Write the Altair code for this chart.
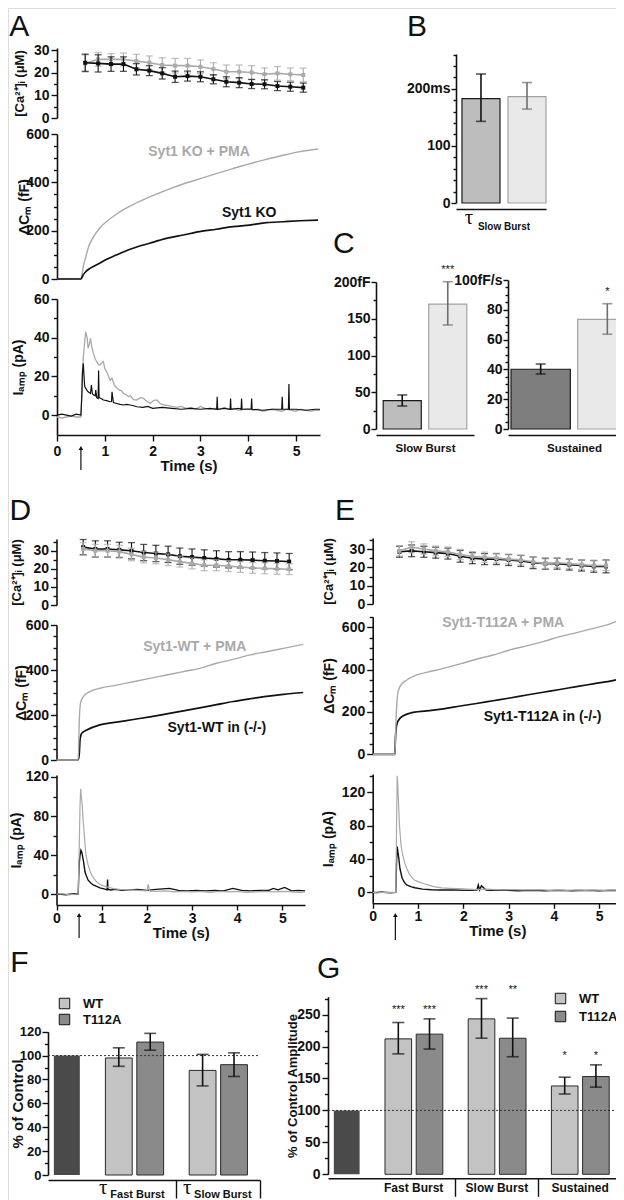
import altair as alt
import pandas as pd

FONT = "Liberation Sans"
INK = "#111111"
GREY = "#a9a9a9"
W, H = 608, 1192
M = 8  # page margin of the html page

# ======================= values =======================
# [Ca2+]i sampling times (s) shared by panels A, D, E
ca_t = [0.59, 0.86, 1.13, 1.39, 1.66, 1.93, 2.20, 2.47, 2.73, 3.00,
        3.27, 3.54, 3.81, 4.07, 4.34, 4.61, 4.88, 5.15]

# ---- Panel A : Syt1 KO (black) / Syt1 KO + PMA (grey)
a_ca_ko = [24.4, 24.1, 23.8, 23.8, 21.5, 20.9, 19.7, 18.2, 18.5, 18.2, 17.1, 16.0, 15.6, 15.0, 14.9, 14.1, 13.8, 13.4]
a_ca_ko_sem = [3.8, 3.8, 3.2, 3.2, 2.5, 2.2, 2.5, 2.5, 2.2, 2.2, 2.0, 2.2, 2.2, 2.0, 2.0, 2.0, 2.0, 2.0]
a_ca_pma = [24.1, 25.9, 25.9, 25.9, 25.1, 24.4, 23.4, 23.1, 23.1, 22.6, 21.6, 20.4, 20.4, 20.1, 19.3, 19.7, 19.3, 19.0]
a_ca_pma_sem = [3.8, 3.0, 2.5, 2.8, 3.0, 3.0, 3.2, 3.2, 3.2, 3.0, 2.8, 3.0, 3.0, 3.0, 2.8, 3.0, 2.8, 3.0]

a_cm_pma = [(0, 0), (0.25, 1), (0.5, 0), (0.52, 15), (0.55, 51), (0.6, 90), (0.65, 127), (0.75, 170),
            (0.89, 210), (1.05, 240), (1.24, 268), (1.4, 288), (1.59, 308), (1.8, 327), (1.94, 340),
            (2.29, 368), (2.64, 393), (2.98, 414), (3.33, 436), (3.68, 457), (4.03, 477), (4.38, 495),
            (4.73, 512), (5.08, 527), (5.46, 538)]
a_cm_ko = [(0, 0), (0.25, 0), (0.5, 0), (0.55, 18), (0.6, 30), (0.7, 45), (0.89, 65), (1.05, 83),
           (1.24, 99), (1.4, 113), (1.59, 127), (1.94, 148), (2.29, 168), (2.64, 182), (2.98, 196),
           (3.33, 206), (3.68, 217), (4.03, 223), (4.38, 233), (4.73, 237), (5.08, 241), (5.46, 244)]

a_i_pma = [(0.0, -1), (0.1, -1.5), (0.2, -1), (0.3, -0.5), (0.4, -1), (0.5, -1), (0.52, 12), (0.55, 30),
           (0.58, 38), (0.6, 43), (0.63, 40), (0.65, 34.5), (0.68, 37), (0.7, 39.7), (0.73, 35), (0.76, 32),
           (0.8, 29), (0.83, 27.6), (0.87, 26), (0.9, 26), (0.94, 27), (0.97, 27.6), (1.0, 24), (1.04, 22.4),
           (1.08, 20), (1.11, 18), (1.15, 19), (1.2, 15.5), (1.25, 14), (1.3, 13), (1.35, 12.5), (1.39, 11.2),
           (1.45, 10.5), (1.5, 9.5), (1.53, 10), (1.6, 8), (1.67, 7.8), (1.74, 9), (1.81, 8.6), (1.88, 7),
           (1.95, 6), (2.02, 7.5), (2.09, 7.8), (2.16, 6), (2.23, 5.2), (2.3, 5), (2.4, 4.5), (2.5, 4),
           (2.6, 4.5), (2.7, 3.5), (2.8, 4), (2.9, 3), (3.0, 4.5), (3.1, 3.5), (3.2, 3), (3.3, 3.5),
           (3.4, 3), (3.5, 4), (3.6, 3), (3.7, 3.5), (3.8, 2.5), (3.9, 3), (4.0, 3.5), (4.1, 2.5),
           (4.2, 3), (4.3, 2), (4.4, 2.5), (4.5, 3), (4.6, 2.5), (4.7, 2), (4.8, 3), (4.9, 2.5),
           (5.0, 2), (5.1, 3), (5.2, 2.5), (5.3, 2), (5.4, 2.5), (5.5, 2.5)]
a_i_ko = [(0.0, 0), (0.1, 0.5), (0.2, 0), (0.3, -0.5), (0.4, 0.5), (0.5, 0), (0.52, 10), (0.53, 21.5),
          (0.55, 26.7), (0.57, 18), (0.58, 14.7), (0.62, 13), (0.65, 12), (0.7, 11.2), (0.72, 15.5),
          (0.74, 11), (0.76, 10.5), (0.8, 10), (0.81, 13), (0.83, 9), (0.86, 8.6), (0.87, 23), (0.88, 9),
          (0.92, 8.6), (0.97, 7.8), (1.04, 7.5), (1.11, 6.9), (1.14, 7), (1.15, 12), (1.18, 6.5),
          (1.25, 6), (1.32, 5.5), (1.39, 5.2), (1.46, 5.5), (1.53, 5.2), (1.6, 4.8), (1.67, 4.3),
          (1.8, 4), (1.9, 4.5), (2.0, 3.5), (2.2, 4), (2.4, 3.5), (2.6, 3), (2.8, 3.5), (3.0, 3),
          (3.2, 3.5), (3.34, 3), (3.35, 9.5), (3.36, 3), (3.5, 3.5), (3.62, 3), (3.63, 8.6), (3.64, 3),
          (3.8, 3.5), (3.85, 3), (3.86, 8.6), (3.87, 3), (4.06, 3), (4.07, 8.6), (4.08, 3), (4.3, 2.5),
          (4.5, 3), (4.7, 3), (4.71, 9.5), (4.72, 3), (4.84, 3), (4.85, 16), (4.86, 3), (5.0, 3),
          (5.2, 2.5), (5.4, 3), (5.5, 3)]

# ---- Panel B : tau slow burst (ms)
b_cond = ["Syt1 KO", "Syt1 KO + PMA"]
b_tau = [183, 186.5]
b_tau_lo = [143, 164.5]
b_tau_hi = [226, 211]

# ---- Panel C : slow burst (fF) and sustained rate (fF/s)
c_burst = [38.5, 170]
c_burst_lo = [31.3, 141.5]
c_burst_hi = [46.3, 200.4]
c_burst_sig = ["", "***"]
c_sust = [40.1, 73.6]
c_sust_lo = [36.9, 63.6]
c_sust_hi = [43.6, 84.1]
c_sust_sig = ["", "*"]

# ---- Panel D : Syt1-WT in (-/-) (black) / Syt1-WT + PMA (grey)
d_ca_wt = [32.0, 31.0, 31.0, 30.5, 30.0, 29.0, 28.5, 28.0, 27.0, 26.5, 26.0, 25.5, 25.0, 25.0, 24.8, 24.5, 24.3, 24.0]
d_ca_wt_sem = [4.2, 4.5, 4.5, 4.2, 4.5, 4.5, 4.5, 4.5, 4.5, 4.5, 4.5, 4.5, 4.5, 4.5, 4.5, 4.5, 4.5, 4.5]
d_ca_pma = [31.0, 30.0, 30.0, 29.5, 28.0, 26.5, 26.0, 25.0, 24.0, 23.0, 22.0, 22.0, 21.5, 21.0, 20.5, 20.3, 20.0, 19.8]
d_ca_pma_sem = [3.5, 3.5, 3.5, 3.5, 3.5, 3.2, 3.2, 3.2, 3.0, 3.0, 3.0, 3.0, 3.0, 3.0, 3.0, 3.0, 3.0, 3.0]

d_cm_pma = [(0, 0), (0.25, 0), (0.48, 0), (0.505, 178), (0.53, 252), (0.59, 281), (0.74, 304), (0.96, 319),
            (1.33, 333), (1.7, 348), (2.07, 363), (2.44, 378), (2.81, 393), (3.17, 407), (3.54, 430),
            (3.91, 447), (4.28, 467), (4.65, 481), (5.02, 496), (5.46, 514)]
d_cm_wt = [(0, 0), (0.25, 0), (0.48, 0), (0.505, 30), (0.52, 89), (0.56, 119), (0.67, 133), (0.96, 156),
           (1.33, 168), (1.7, 180), (2.07, 192), (2.44, 205), (2.81, 218), (3.17, 232), (3.54, 246),
           (3.91, 260), (4.28, 272), (4.65, 283), (5.02, 292), (5.46, 300)]

d_i_pma = [(0, 0), (0.1, 0.5), (0.2, 0), (0.3, -0.5), (0.4, 0), (0.48, 0), (0.5, 40), (0.52, 90),
           (0.535, 108), (0.55, 100), (0.57, 91), (0.59, 75), (0.61, 64), (0.63, 52), (0.645, 43),
           (0.67, 36), (0.7, 30), (0.74, 24), (0.78, 19.5), (0.83, 16), (0.89, 12.6), (0.95, 10.5),
           (1.04, 8.5), (1.15, 7), (1.26, 5.8), (1.4, 5), (1.6, 4.5), (1.8, 4), (2.0, 3.5), (2.03, 10),
           (2.06, 3.5), (2.2, 3), (2.4, 3.5), (2.6, 2.5), (2.8, 3), (3.0, 2.5), (3.2, 3), (3.4, 2),
           (3.6, 3), (3.8, 2.5), (4.0, 3), (4.2, 2), (4.4, 2.5), (4.6, 3), (4.8, 2.5), (5.0, 3),
           (5.2, 2.5), (5.4, 2), (5.5, 2.5)]
d_i_wt = [(0, 0), (0.1, 0), (0.2, -0.5), (0.3, 0), (0.4, 0.5), (0.48, 0), (0.5, 30), (0.52, 40),
          (0.54, 45), (0.56, 43), (0.58, 38), (0.6, 33), (0.63, 23), (0.66, 19), (0.7, 14.4), (0.76, 11.5),
          (0.82, 9.2), (0.89, 8), (0.96, 6.5), (1.05, 5.5), (1.12, 4.5), (1.13, 15), (1.14, 5), (1.2, 4.4),
          (1.3, 5), (1.45, 4), (1.6, 4.5), (1.8, 5), (2.0, 4), (2.2, 5), (2.5, 6), (2.7, 4), (2.9, 3.5),
          (3.1, 4), (3.3, 3.5), (3.5, 4), (3.7, 3.5), (3.9, 6), (4.1, 4), (4.3, 3.5), (4.5, 4), (4.7, 4),
          (4.8, 6), (4.9, 4.5), (5.05, 7), (5.2, 3.5), (5.35, 4), (5.5, 3.5)]

# ---- Panel E : Syt1-T112A in (-/-) (black) / Syt1-T112A + PMA (grey)
e_ca_pma = [29.0, 31.0, 30.0, 29.0, 28.5, 27.0, 26.0, 25.5, 25.0, 24.5, 24.0, 23.0, 22.0, 22.5, 22.0, 21.5, 21.0, 21.0]
e_ca_pma_sem = [2.8, 3.0, 2.8, 2.6, 2.6, 2.8, 2.6, 2.8, 2.6, 2.6, 2.6, 2.8, 2.6, 2.6, 2.6, 2.6, 2.8, 2.8]
e_ca_t112a = [28.5, 29.0, 28.5, 28.0, 27.5, 26.0, 25.0, 24.5, 24.5, 24.0, 23.5, 22.5, 22.0, 22.0, 21.5, 21.0, 20.5, 20.5]
e_ca_t112a_sem = [3.0, 3.2, 3.0, 3.0, 3.0, 3.2, 3.0, 3.0, 3.0, 3.0, 3.0, 3.2, 3.0, 3.0, 3.0, 3.0, 3.2, 3.5]

e_cm_pma = [(0, 0), (0.25, 0), (0.49, 0), (0.515, 162), (0.544, 272), (0.6, 320), (0.75, 351), (0.97, 375),
            (1.19, 387), (1.56, 406), (1.93, 427), (2.29, 449), (2.66, 469), (3.03, 493), (3.4, 512),
            (3.76, 532), (4.13, 556), (4.5, 575), (4.87, 595), (5.24, 616), (5.49, 638)]
e_cm_t112a = [(0, 0), (0.25, 0), (0.49, 0), (0.5, 68), (0.53, 139), (0.6, 170), (0.82, 194), (1.19, 205),
              (1.56, 215), (1.93, 228), (2.29, 240), (2.66, 253), (3.03, 266), (3.4, 280), (3.76, 293),
              (4.13, 306), (4.5, 320), (4.87, 333), (5.24, 346), (5.49, 357)]

e_i_pma = [(0, 0), (0.1, -0.5), (0.2, 0), (0.3, 0.5), (0.4, 0), (0.51, 0), (0.525, 70), (0.54, 140),
           (0.553, 130), (0.566, 113), (0.58, 95), (0.59, 81), (0.61, 67), (0.625, 57), (0.65, 48),
           (0.68, 41), (0.71, 35), (0.75, 29), (0.8, 23), (0.85, 19), (0.92, 15), (1.0, 13), (1.1, 11),
           (1.22, 9), (1.35, 7), (1.52, 5.6), (1.7, 5), (1.9, 4.5), (2.1, 4), (2.3, 3.5), (2.5, 4),
           (2.7, 3.5), (2.9, 3), (3.1, 3.5), (3.3, 3), (3.5, 3), (3.7, 3.5), (3.9, 2.5), (4.1, 3),
           (4.3, 2.5), (4.5, 3), (4.7, 2.5), (4.9, 3), (5.1, 2.5), (5.3, 3), (5.5, 2.5)]
e_i_t112a = [(0, 0), (0.1, 0), (0.2, 0.5), (0.3, 0), (0.4, -0.5), (0.51, 0), (0.525, 33), (0.54, 55),
             (0.566, 45), (0.585, 37), (0.6, 29), (0.625, 23), (0.65, 17), (0.7, 12), (0.75, 9), (0.84, 7),
             (0.93, 5.6), (1.1, 4), (1.3, 3.2), (1.5, 3), (1.8, 3), (2.1, 2.5), (2.3, 3), (2.33, 9),
             (2.36, 3), (2.4, 8), (2.5, 3), (2.6, 2.5), (2.9, 3), (3.2, 2), (3.5, 2.5), (3.8, 2),
             (4.1, 2.5), (4.4, 2), (4.7, 2.5), (5.0, 2), (5.3, 2.5), (5.5, 2)]

# ---- Panels F / G : % of control (WT, T112A)
fg_series = ["WT", "T112A"]
f_groups = ["Fast Burst", "Slow Burst"]
f_vals = [[98.0, 111.3], [87.6, 92.4]]
f_lo = [[91.0, 104.5], [74.6, 82.5]]
f_hi = [[106.5, 118.6], [101.0, 102.3]]
f_sig = [["", ""], ["", ""]]

g_groups = ["Fast Burst", "Slow Burst", "Sustained"]
g_vals = [[212.0, 219.4], [243.3, 213.0], [138.3, 153.0]]
g_lo = [[188.5, 196.0], [213.0, 184.0], [125.7, 136.4]]
g_hi = [[237.6, 243.3], [275.0, 244.5], [152.0, 171.3]]
g_sig = [["***", "***"], ["***", "**"], ["*", "*"]]
control_value = 100

# ============================ helpers ============================
def lin(dom, rng):
    return alt.Scale(domain=list(dom), range=[rng[0] - M, rng[1] - M], nice=False, zero=False)


def axis(**kw):
    base = dict(grid=False, labelOverlap=False, labelFlush=False, domainColor=INK, tickColor=INK,
                labelColor=INK, titleColor=INK, domainWidth=1.6, tickWidth=1.4, labelFont=FONT,
                titleFont=FONT, labelFontWeight="bold", titleFontWeight="bold")
    base.update(kw)
    return alt.Axis(**base)


def yaxis(x_page, lo, hi, minor, major, title=None, tdist=30, labels=None, lfs=14, tfs=14,
          big=6, small=3.5, lpad=2):
    n = int(round((hi - lo) / minor))
    vals = [round(lo + i * minor, 6) for i in range(n + 1)]
    test = f"abs(datum.value % {major}) < 0.001"
    lab = "datum.label"
    for k, v in (labels or {}).items():
        lab = f"(datum.value == {k} ? '{v}' : {lab})"
    kw = dict(orient="left", offset=-(x_page - M), values=vals, labelExpr=f"{test} ? {lab} : ''",
              tickSize={"condition": {"test": test, "value": big}, "value": small},
              labelFontSize=lfs, labelPadding=lpad, minExtent=20, maxExtent=20)
    if title:
        kw.update(title=title, titleFontSize=tfs, titlePadding=tdist - 20)
    else:
        kw.update(title=None)
    return axis(**kw)


def time_axis(y_page, tick, lpad, tpad):
    return axis(orient="bottom", offset=(y_page - M) - H, values=[0, 1, 2, 3, 4, 5], title="Time (s)",
                titleFontSize=15, titlePadding=tpad, labelFontSize=14, tickSize=tick, labelPadding=lpad)


def bar_xaxis(y_page, title=None, tpad=6, tfs=11.5, ticks_at=None, tick=18):
    kw = dict(orient="bottom", offset=(y_page - M) - H, labels=False)
    if ticks_at is not None:
        kw.update(values=ticks_at, ticks=True, tickSize=tick)
    else:
        kw.update(ticks=False)
    if title:
        kw.update(title=title, titleFontSize=tfs, titlePadding=tpad)
    else:
        kw.update(title=None)
    return axis(**kw)


def text_layer(df, X, Y, **mk):
    style = dict(font=FONT, color=INK)
    style.update(mk)
    return alt.Chart(df).mark_text(**style).encode(x=X, y=Y, text="txt:N")


def ca_panel(xs, ys, yax, series, letters=None):
    X = alt.X("t:Q", scale=xs, axis=None)

    def Y(f):
        return alt.Y(f"{f}:Q", scale=ys, axis=yax)

    layers = []
    for vals, sem, colour in series:
        df = pd.DataFrame({"t": ca_t, "v": vals, "sem": sem})
        df["lo"] = df["v"] - df["sem"]
        df["hi"] = df["v"] + df["sem"]
        base = alt.Chart(df).encode(x=X)
        layers += [
            base.mark_rule(color=colour, strokeWidth=1.1).encode(y=Y("lo"), y2="hi:Q"),
            base.mark_tick(color=colour, orient="horizontal", size=7, thickness=1.3).encode(y=Y("lo")),
            base.mark_tick(color=colour, orient="horizontal", size=7, thickness=1.3).encode(y=Y("hi")),
            base.mark_line(color=colour, strokeWidth=1.6).encode(y=Y("v")),
            base.mark_square(color=colour, size=16, opacity=1).encode(y=Y("v")),
        ]
    if letters:
        layers.append(text_layer(pd.DataFrame(letters, columns=["t", "v", "txt"]), X, Y("v"),
                                 fontSize=30, align="left", baseline="alphabetic"))
    return alt.layer(*layers)


def cm_panel(xs, ys, yax, traces, labels, letters=None):
    X = alt.X("t:Q", scale=xs, axis=None)
    Y = alt.Y("v:Q", scale=ys, axis=yax)
    layers = []
    for pairs, colour, sw in traces:
        layers.append(alt.Chart(pd.DataFrame(pairs, columns=["t", "v"])).mark_line(
            color=colour, strokeWidth=sw, interpolate="monotone").encode(x=X, y=Y))
    for t, v, s, colour in labels:
        layers.append(text_layer(pd.DataFrame({"t": [t], "v": [v], "txt": [s]}), X, Y,
                                 fontSize=14, fontWeight="bold", color=colour, baseline="middle"))
    if letters:
        layers.append(text_layer(pd.DataFrame(letters, columns=["t", "v", "txt"]), X, Y,
                                 fontSize=30, align="left", baseline="alphabetic"))
    return alt.layer(*layers)


def ia_panel(xs, ys, yax, xax, traces, arrow):
    X = alt.X("t:Q", scale=xs, axis=xax)
    Y = alt.Y("v:Q", scale=ys, axis=yax)
    layers = []
    for pairs, colour, sw in traces:
        layers.append(alt.Chart(pd.DataFrame(pairs, columns=["t", "v"])).mark_line(
            color=colour, strokeWidth=sw).encode(x=X, y=Y))
    t0, v_lo, v_hi = arrow
    adf = pd.DataFrame({"t": [t0], "v": [v_lo], "v2": [v_hi]})
    layers.append(alt.Chart(adf).mark_rule(color=INK, strokeWidth=1.2).encode(x=X, y=Y, y2="v2:Q"))
    layers.append(alt.Chart(adf).mark_point(shape="triangle-up", filled=True, size=22, color=INK,
                                            opacity=1).encode(x=X, y=alt.Y("v2:Q", scale=ys, axis=yax)))
    return alt.layer(*layers)


def pair_panel(conds, vals, lo, hi, sig, fills, strokes, errs, xr, yr, yd, yax, xax, pin, pout, align):
    xs = alt.Scale(domain=conds, range=[xr[0] - M, xr[1] - M], paddingInner=pin, paddingOuter=pout,
                   align=align)
    ys = lin(yd, yr)
    df = pd.DataFrame({"cond": conds, "val": vals, "lo": lo, "hi": hi, "txt": sig})
    df["base"] = 0
    X = alt.X("cond:N", scale=xs, axis=xax)

    def Y(f):
        return alt.Y(f"{f}:Q", scale=ys, axis=yax)

    fill = alt.Fill("cond:N", scale=alt.Scale(domain=conds, range=fills), legend=None)
    stroke = alt.Stroke("cond:N", scale=alt.Scale(domain=conds, range=strokes), legend=None)
    col = alt.Color("cond:N", scale=alt.Scale(domain=conds, range=errs), legend=None)
    base = alt.Chart(df).encode(x=X)
    return alt.layer(
        base.mark_bar(strokeWidth=1.2, opacity=1).encode(y=Y("val"), y2="base:Q", fill=fill, stroke=stroke),
        base.mark_rule(strokeWidth=1.6).encode(y=Y("lo"), y2="hi:Q", color=col),
        base.mark_tick(size=10, thickness=1.6).encode(y=Y("lo"), color=col),
        base.mark_tick(size=10, thickness=1.6).encode(y=Y("hi"), color=col),
        base.mark_text(font=FONT, fontSize=11, color=INK, dy=-9, baseline="alphabetic").encode(
            y=Y("hi"), text="txt:N"),
    )


CTRL_W, BAR_W, BAR_L, CTRL_BAR = 0.53, 0.32, [0.155, 0.53], (0.07, 0.38)
WT_FILL, T_FILL, CTRL_FILL = "#c3c3c3", "#8a8a8a", "#4a4a4a"


def group_panel(groups, vals, lo, hi, sig, xr, yr, yd, yax, xax_y, legend, tau, letters=None):
    n = len(groups)
    xs = lin((0, CTRL_W + n), xr)
    ys = lin(yd, yr)
    rows, labs = [], []
    for k, g in enumerate(groups):
        left = CTRL_W + k
        labs.append({"x": left + 0.5, "v": 0, "txt": g})
        for j, s in enumerate(fg_series):
            x0 = left + BAR_L[j]
            rows.append({"grp": g, "series": s, "x": x0, "x1": x0 + BAR_W, "xc": x0 + BAR_W / 2,
                         "v": vals[k][j], "lo": lo[k][j], "hi": hi[k][j], "txt": sig[k][j],
                         "sy": max(hi[k]), "base": 0})
    df = pd.DataFrame(rows)
    xax = bar_xaxis(xax_y, ticks_at=[CTRL_W + k + 1 for k in range(n)], tick=18)

    def X(f):
        return alt.X(f"{f}:Q", scale=xs, axis=xax)

    def Y(f):
        return alt.Y(f"{f}:Q", scale=ys, axis=yax)

    ctrl = pd.DataFrame({"x": [CTRL_BAR[0]], "x1": [CTRL_BAR[1]], "v": [control_value], "base": [0]})
    ref = pd.DataFrame({"x": [0], "x1": [CTRL_W + n], "v": [control_value]})
    layers = [
        alt.Chart(ctrl).mark_bar(color=CTRL_FILL).encode(x=X("x"), x2="x1:Q", y=Y("v"), y2="base:Q"),
        alt.Chart(df).mark_bar(stroke="#2a2a2a", strokeWidth=1, opacity=1).encode(
            x=X("x"), x2="x1:Q", y=Y("v"), y2="base:Q",
            fill=alt.Fill("series:N", scale=alt.Scale(domain=fg_series, range=[WT_FILL, T_FILL]),
                          legend=legend)),
        alt.Chart(ref).mark_rule(color="#333333", strokeWidth=1, strokeDash=[2, 2]).encode(
            x=X("x"), x2="x1:Q", y=Y("v")),
        alt.Chart(df).mark_rule(color=INK, strokeWidth=1.6).encode(x=X("xc"), y=Y("lo"), y2="hi:Q"),
        alt.Chart(df).mark_tick(color=INK, orient="horizontal", size=12, thickness=1.6).encode(
            x=X("xc"), y=Y("lo")),
        alt.Chart(df).mark_tick(color=INK, orient="horizontal", size=12, thickness=1.6).encode(
            x=X("xc"), y=Y("hi")),
        alt.Chart(df).mark_text(font=FONT, fontSize=11, color=INK, dy=-6, baseline="alphabetic").encode(
            x=X("xc"), y=Y("sy"), text="txt:N"),
    ]
    ldf = pd.DataFrame(labs)
    if tau:
        layers.append(alt.Chart(ldf).mark_text(font="Liberation Serif", fontSize=21, color=INK, text="τ",
                                               dx=-31, dy=19, baseline="alphabetic").encode(
            x=X("x"), y=Y("v")))
        layers.append(text_layer(ldf, X("x"), Y("v"), fontSize=11, fontWeight="bold", align="left",
                                 dx=-24, dy=23, baseline="alphabetic"))
    else:
        layers.append(text_layer(ldf, X("x"), Y("v"), fontSize=12, fontWeight="bold", dy=18,
                                 baseline="alphabetic"))
    if letters:
        layers.append(text_layer(pd.DataFrame(letters, columns=["x", "v", "txt"]), X("x"), Y("v"),
                                 fontSize=30, align="left", baseline="alphabetic"))
    return alt.layer(*layers)


def legend(lx, ly, row_pad):
    return alt.Legend(orient="none", legendX=lx - M, legendY=ly - M, title=None, symbolType="square",
                      symbolSize=110, symbolStrokeColor=INK, symbolStrokeWidth=1, labelFont=FONT,
                      labelFontSize=13, labelFontWeight="bold", labelColor=INK, labelOffset=12,
                      rowPadding=row_pad, padding=0, symbolOpacity=1)


# ============================ panels ============================
panels = []
CA_TITLE, CM_TITLE, I_TITLE = "[Ca²⁺]ᵢ (μM)", "ΔCₘ (fF)", "Iₐₘₚ (pA)"

# ---------- A ----------
xA = lin((0, 5.5), (57, 320))
ysA_ca = lin((0, 30.9), (118, 48))
panels.append(ca_panel(xA, ysA_ca, yaxis(57, 0, 30, 5, 10, CA_TITLE, tdist=31, tfs=13),
                       [(a_ca_pma, a_ca_pma_sem, GREY), (a_ca_ko, a_ca_ko_sem, INK)],
                       letters=[(-1.0, 36.4, "A"), (7.32, 36.4, "B")]))
ysA_cm = lin((0, 600), (279, 134))
panels.append(cm_panel(xA, ysA_cm, yaxis(57, 0, 600, 50, 200, CM_TITLE, tdist=26),
                       [(a_cm_pma, GREY, 1.4), (a_cm_ko, INK, 1.7)],
                       [(2.97, 525, "Syt1 KO + PMA", GREY), (4.02, 273, "Syt1 KO", INK)],
                       letters=[(5.77, 107.6, "C")]))
ysA_i = lin((-10.3, 60), (435, 299))
panels.append(ia_panel(xA, ysA_i, yaxis(57, 0, 60, 10, 20, I_TITLE, tdist=32),
                       time_axis(435, 6, 3, 0),
                       [(a_i_pma, GREY, 1.3), (a_i_ko, INK, 1.2)], (0.5, -28.4, -17)))

# ---------- B ----------
panels.append(pair_panel(b_cond, b_tau, b_tau_lo, b_tau_hi, ["", ""],
                         ["#bdbdbd", "#e9e9e9"], ["#1a1a1a", "#a3a3a3"], [INK, "#6e6e6e"],
                         (456, 546), (203, 54), (0, 261),
                         yaxis(456, 0, 260, 20, 100, labels={200: "200ms"}, big=5, small=3, lpad=1),
                         bar_xaxis(209), 0.174, 0.065, 1))
b_lab = alt.Chart(pd.DataFrame({"grp": ["Slow Burst"], "v": [0]})).encode(
    x=alt.X("grp:N", scale=alt.Scale(domain=["Slow Burst"], range=[456 - M, 546 - M]), axis=None),
    y=alt.Y("v:Q", scale=lin((0, 261), (203, 54)), axis=None))
panels.append(alt.layer(
    b_lab.mark_text(font="Liberation Serif", text="τ", fontSize=21, color=INK, dx=-32, dy=21,
                    baseline="alphabetic"),
    b_lab.mark_text(font=FONT, text="Slow Burst", fontSize=10, fontWeight="bold", color=INK, dx=3,
                    dy=27, baseline="alphabetic"),
))

# ---------- C ----------
panels.append(pair_panel(b_cond, c_burst, c_burst_lo, c_burst_hi, c_burst_sig,
                         ["#bdbdbd", "#e9e9e9"], ["#1a1a1a", "#a3a3a3"], [INK, "#6e6e6e"],
                         (376, 474), (429, 282), (0, 200),
                         yaxis(376, 0, 200, 25, 50, labels={200: "200fF"}, big=5, small=3, lpad=1),
                         bar_xaxis(435, "Slow Burst", tpad=7), 0.163, 0.158, 0.5))
panels.append(pair_panel(b_cond, c_sust, c_sust_lo, c_sust_hi, c_sust_sig,
                         ["#7e7e7e", "#e9e9e9"], ["#1a1a1a", "#a3a3a3"], [INK, "#6e6e6e"],
                         (508, 640), (429, 280), (0, 100),
                         yaxis(508, 0, 100, 5, 20, labels={100: "100fF/s"}, big=5, small=3, lpad=1),
                         bar_xaxis(435, "Sustained", tpad=7), 0.11, 0.045, 0.5))

# ---------- D ----------
xD = lin((0, 5.5), (56.5, 305))
panels.append(ca_panel(xD, lin((0, 36.5), (605, 539)), yaxis(56.5, 0, 35, 5, 10, CA_TITLE, tdist=33, tfs=13),
                       [(d_ca_wt, d_ca_wt_sem, INK), (d_ca_pma, d_ca_pma_sem, GREY)],
                       letters=[(-1.04, 47.0, "D"), (6.164, 47.0, "E")]))
panels.append(cm_panel(xD, lin((0, 600), (760, 625)), yaxis(56.5, 0, 600, 50, 200, CM_TITLE, tdist=28),
                       [(d_cm_wt, INK, 1.7), (d_cm_pma, GREY, 1.4)],
                       [(3.06, 503, "Syt1-WT + PMA", GREY), (3.55, 141, "Syt1-WT in (-/-)", INK)]))
panels.append(ia_panel(xD, lin((-11, 122), (905, 775)), yaxis(56.5, 0, 120, 20, 40, I_TITLE, tdist=33),
                       time_axis(905, 5, 1, 0),
                       [(d_i_wt, INK, 1.4), (d_i_pma, GREY, 1.2)], (0.5, -44.7, -21.2)))

# ---------- E ----------
xE = lin((0, 5.5), (372.7, 621.9))
panels.append(ca_panel(xE, lin((0, 36), (604, 538)), yaxis(372.7, 0, 35, 5, 10, CA_TITLE, tdist=37, tfs=13),
                       [(e_ca_t112a, e_ca_t112a_sem, INK), (e_ca_pma, e_ca_pma_sem, GREY)]))
panels.append(cm_panel(xE, lin((0, 650), (754.3, 616.7)),
                       yaxis(372.7, 0, 650, 50, 200, CM_TITLE, tdist=36),
                       [(e_cm_t112a, INK, 1.7), (e_cm_pma, GREY, 1.4)],
                       [(2.88, 618, "Syt1-T112A + PMA", GREY), (3.75, 177, "Syt1-T112A in (-/-)", INK)]))
panels.append(ia_panel(xE, lin((-13, 142), (903.3, 774)),
                       yaxis(372.7, 0, 140, 20, 40, I_TITLE, tdist=37),
                       time_axis(903.3, 5, 1, 0),
                       [(e_i_t112a, INK, 1.4), (e_i_pma, GREY, 1.2)], (0.5, -57, -27)))

# ---------- F ----------
panels.append(group_panel(f_groups, f_vals, f_lo, f_hi, f_sig, (48, 260), (1175, 1031.7), (0, 120),
                          yaxis(48, 0, 120, 10, 20, "% of Control", tdist=23, tfs=15, lfs=13, lpad=1),
                          1180, legend(58, 997, 1), tau=True,
                          letters=[(-0.45, 170.0, "F"), (3.21, 165.0, "G")]))

# ---------- G ----------
panels.append(group_panel(g_groups, g_vals, g_lo, g_hi, g_sig, (328, 621.7), (1174.3, 996.7), (0, 278),
                          yaxis(328, 0, 275, 25, 50, "% of Control Amplitude", tdist=29, tfs=13),
                          1178.3, legend(554, 992, 3), tau=False))

chart = alt.layer(*panels).resolve_scale(
    x="independent", y="independent", color="independent", fill="independent", stroke="independent"
).resolve_axis(x="independent", y="independent").resolve_legend(fill="independent").properties(
    width=W, height=H, padding=0, autosize=alt.AutoSizeParams(type="none")
).configure_view(stroke=None).configure(font=FONT)

chart.save("out.html", embed_options={"renderer": "svg", "actions": False})
